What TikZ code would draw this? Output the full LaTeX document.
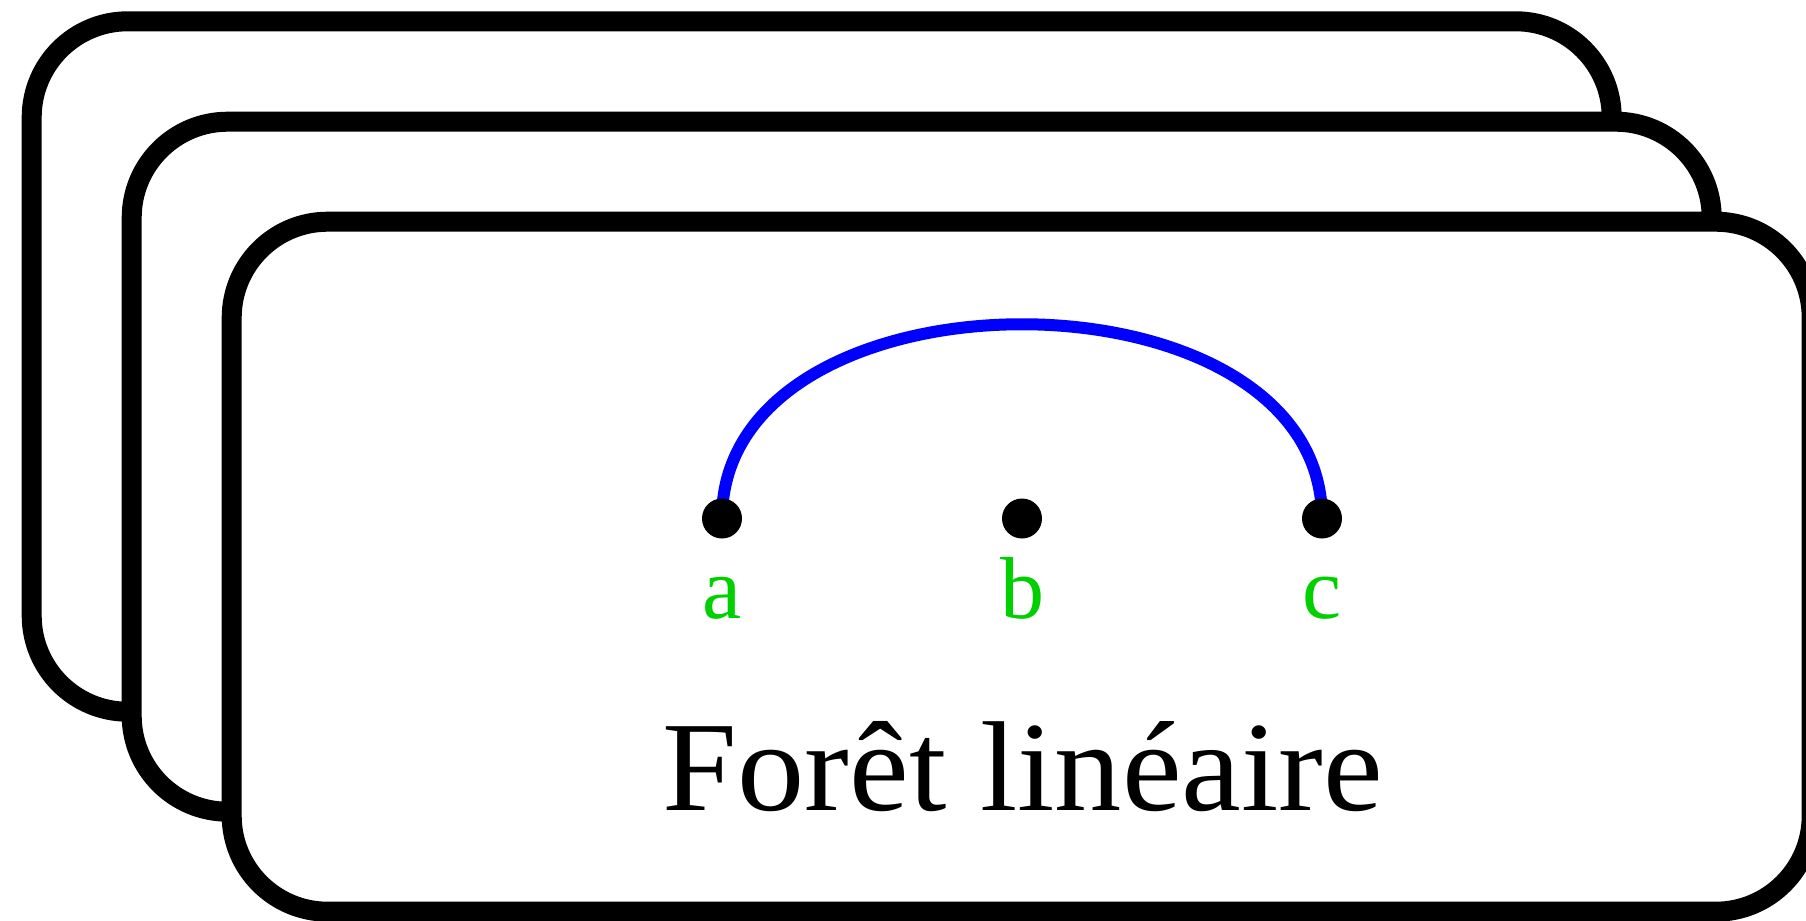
\documentclass[tikz,border=0pt]{standalone}
\usepackage{fontspec}
\setmainfont{Liberation Serif}
\definecolor{lblgreen}{RGB}{0,208,0}
\tikzset{
  card/.style={draw=black, fill=white, line width=10pt, rounded corners=48pt},
  dotnode/.style={circle, fill=black, inner sep=0pt, minimum size=20pt},
  lbl/.style={text=lblgreen, anchor=base, inner sep=0pt, font=\fontsize{44}{50}\selectfont},
  title/.style={anchor=base, inner sep=0pt, font=\fontsize{64}{70}\selectfont},
  link/.style={draw=blue, line width=6pt}
}
\begin{document}
\begin{tikzpicture}[x=0.5pt,y=0.5pt]
\useasboundingbox (0,0) rectangle (1806,-921);
\clip (0,0) rectangle (1806,-921);
\draw[card] (31.7,-21.3) rectangle (1611.7,-711.7);
\draw[card] (131.7,-121.7) rectangle (1711.7,-811.7);
\draw[card] (231.7,-221.7) rectangle (1811.7,-911.7);
\coordinate (pa) at (722,-518.5);
\coordinate (pb) at (1022,-518.5);
\coordinate (pc) at (1322,-518.5);
\draw[link] (pa) .. controls +(0,259) and +(0,259) .. (pc);
\node[dotnode] (a) at (pa) {};
\node[dotnode] (b) at (pb) {};
\node[dotnode] (c) at (pc) {};
\node[lbl] (la) at (722,-618) {a};
\node[lbl] (lb) at (1022,-618) {b};
\node[lbl] (lc) at (1322,-618) {c};
\node[title, xscale=1.05, transform shape] (t) at (1023,-810) {Forêt linéaire};
\end{tikzpicture}
\end{document}
